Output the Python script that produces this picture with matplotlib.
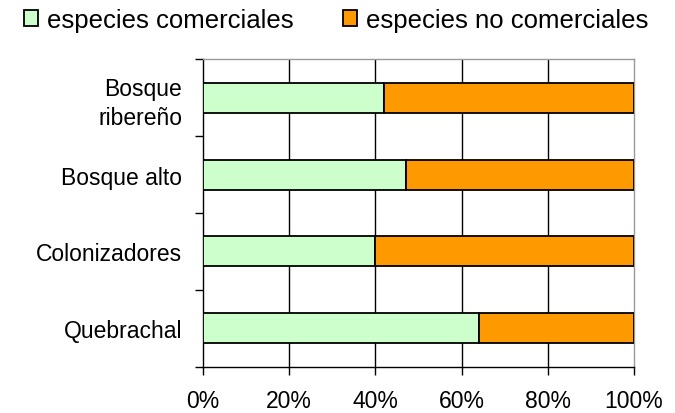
import matplotlib
matplotlib.use("Agg")
import matplotlib.pyplot as plt
import numpy as np

plt.rcParams['font.family'] = ['Liberation Sans', 'DejaVu Sans']

categories = ["Quebrachal", "Colonizadores", "Bosque alto", "Bosque\nribereño"]
comerciales = [64, 40, 47, 42]
no_comerciales = [100 - v for v in comerciales]
series_names = ["especies comerciales", "especies no comerciales"]
x_ticks = [0, 20, 40, 60, 80, 100]
x_tick_labels = ["0%", "20%", "40%", "60%", "80%", "100%"]

fig = plt.figure(figsize=(6.75, 4.14), dpi=100)
ax = fig.add_axes([0.3007, 0.1123, 0.6385, 0.7416])

y = np.arange(len(categories))
bar_h = 0.39
b1 = ax.barh(y, comerciales, height=bar_h, color="#CCFFCC", edgecolor="black",
             linewidth=1.3, zorder=3, label=series_names[0])
b2 = ax.barh(y, no_comerciales, left=comerciales, height=bar_h, color="#FF9900",
             edgecolor="black", linewidth=1.3, zorder=3, label=series_names[1])

ax.set_xlim(0, 100)
ax.set_ylim(-0.5, len(categories) - 0.5)

# vertical gridlines
for xv in x_ticks[1:-1]:
    ax.axvline(xv, color="black", linewidth=1.0, zorder=1)

for s in ["top", "right"]:
    ax.spines[s].set_color("#999999")
    ax.spines[s].set_linewidth(1.0)
for s in ["left", "bottom"]:
    ax.spines[s].set_color("black")
    ax.spines[s].set_linewidth(1.0)

tick_fs = 16.5
ax.set_xticks(x_ticks)
ax.set_xticklabels(x_tick_labels, fontsize=tick_fs)
ax.tick_params(axis="x", direction="out", length=6, width=1, pad=10)

# category boundaries carry the tick marks; names sit between them
ax.set_yticks(np.arange(-0.5, len(categories), 1.0))
ax.set_yticklabels([])
ax.tick_params(axis="y", which="major", direction="out", length=6, width=1)
ax.set_yticks(y, minor=True)
ax.set_yticklabels(categories, minor=True, fontsize=tick_fs, ha="right",
                   linespacing=1.3)
ax.tick_params(axis="y", which="minor", length=0, pad=15)

fig.legend(handles=[b1, b2], labels=series_names, loc="center",
           bbox_to_anchor=(0.498, 0.949), ncol=2, frameon=False, fontsize=18.5,
           handlelength=0.55, handleheight=0.55, handletextpad=0.35,
           columnspacing=1.9, borderaxespad=0, borderpad=0)

fig.savefig("out.png", dpi=100)
